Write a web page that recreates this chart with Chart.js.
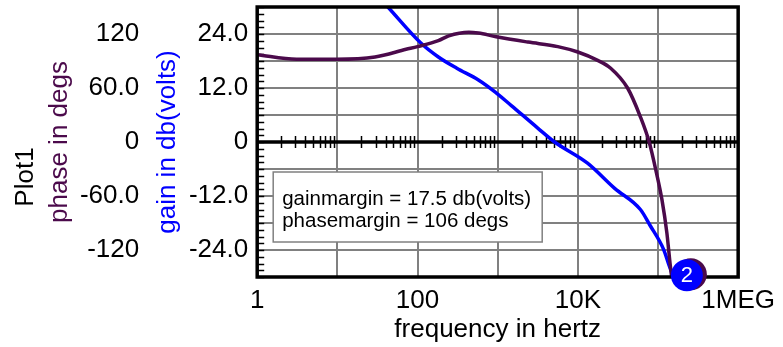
<!DOCTYPE html>
<html>
<head>
<meta charset="utf-8">
<script src="https://cdn.jsdelivr.net/npm/chart.js@4/dist/chart.umd.min.js"></script>
<style>
  html, body { margin: 0; padding: 0; background: #fff; }
  #wrap { width: 783px; height: 347px; }
</style>
</head>
<body>
<div id="wrap"><canvas id="bode"></canvas></div>
<script>
// Bode plot: phase (deg) and gain (dB) against log frequency.
const phaseFreq = [1, 3.1, 9.8, 29.5, 72, 100, 182, 245, 437, 575, 955, 2400, 5620, 10000, 17400, 25700, 41700, 60300, 77600, 95500, 112000, 129000, 141000, 148000];
const phaseDeg = [97, 92, 92, 94.5, 103, 106, 112.6, 118, 122, 121, 117, 111, 106, 100, 91, 82, 60, 28, 0, -34, -64, -101, -134, -150];

const gainFreq = [42.7, 110, 182, 309, 575, 933, 1480, 3160, 5130, 13200, 28800, 60300, 79400, 117000, 138000, 155000];
const gainDb = [30, 22, 18.9, 16.4, 13.8, 11.1, 8.1, 3.1, 0, -4.7, -10.3, -15, -18.5, -23.8, -27.5, -30];

const decades = [1, 10, 100, 1e3, 1e4, 1e5, 1e6];
const decadeLabels = ['1', '', '100', '', '10K', '', '1MEG'];

const gainTicks = [-30, -24, -18, -12, -6, 0, 6, 12, 18, 24, 30];
const gainTickLabels = ['', '-24.0', '', '-12.0', '', '0', '', '12.0', '', '24.0', ''];
const phaseTicks = [-150, -120, -90, -60, -30, 0, 30, 60, 90, 120, 150];
const phaseTickLabels = ['', '-120', '', '-60.0', '', '0', '', '60.0', '', '120', ''];

const boxLines = ['gainmargin = 17.5 db(volts)', 'phasemargin = 106 degs'];
const markerFreq = [229000];
const markerGain = [-29.6];
const markerLabel = '2';

const PURPLE = '#4b0a4b';
const BLUE = '#0000ff';
const FONT = '"Liberation Sans", Arial, sans-serif';

function toPoints(xs, ys) {
  return xs.map((x, i) => ({ x: x, y: ys[i] }));
}

const plotFrame = {
  id: 'plotFrame',
  beforeDatasetsDraw(chart) {
    const ctx = chart.ctx;
    const area = chart.chartArea;
    const xs = chart.scales.x;
    const ys = chart.scales.y;
    ctx.save();

    // horizontal grid every 6 dB, heavy line at zero
    gainTicks.forEach((v) => {
      const py = ys.getPixelForValue(v);
      ctx.beginPath();
      ctx.moveTo(area.left, py);
      ctx.lineTo(area.right, py);
      ctx.strokeStyle = v === 0 ? '#000' : '#808080';
      ctx.lineWidth = v === 0 ? 3.5 : 2;
      ctx.stroke();
    });

    // minor ticks along the left border, every 1.5 dB
    ctx.strokeStyle = '#000';
    ctx.lineWidth = 1.5;
    for (let v = -30; v <= 30; v += 1.5) {
      const py = Math.round(ys.getPixelForValue(v)) + 0.5;
      ctx.beginPath();
      ctx.moveTo(area.left, py);
      ctx.lineTo(area.left + 7, py);
      ctx.stroke();
    }

    // log minor ticks crossing the zero line
    const y0 = ys.getPixelForValue(0);
    for (let d = 0; d < decades.length - 1; d++) {
      for (let m = 2; m <= 9; m++) {
        const px = Math.round(xs.getPixelForValue(decades[d] * m)) + 0.5;
        ctx.beginPath();
        ctx.moveTo(px, y0 - 6);
        ctx.lineTo(px, y0 + 6);
        ctx.stroke();
      }
    }

    // margin readout box
    const bx = area.left + 16;
    const by = area.top + 165;
    ctx.fillStyle = '#fff';
    ctx.fillRect(bx, by, 269, 70);
    ctx.strokeStyle = '#808080';
    ctx.lineWidth = 1.5;
    ctx.strokeRect(bx, by, 269, 70);
    ctx.fillStyle = '#000';
    ctx.font = '20.5px ' + FONT;
    ctx.textAlign = 'left';
    ctx.textBaseline = 'alphabetic';
    boxLines.forEach((line, i) => {
      ctx.fillText(line, bx + 9, by + 33 + i * 22);
    });
    ctx.restore();
  },
  afterDatasetsDraw(chart) {
    const ctx = chart.ctx;
    const area = chart.chartArea;
    ctx.save();
    ctx.strokeStyle = '#000';
    ctx.lineWidth = 3.5;
    ctx.strokeRect(area.left, area.top, area.right - area.left, area.bottom - area.top);

    // numbered marker at the end of the traces
    const pt = chart.getDatasetMeta(2).data[0];
    if (pt) {
      ctx.fillStyle = PURPLE;
      ctx.beginPath();
      ctx.arc(pt.x + 4, pt.y - 1, 16, 0, Math.PI * 2);
      ctx.fill();
      ctx.fillStyle = BLUE;
      ctx.beginPath();
      ctx.arc(pt.x, pt.y, 16, 0, Math.PI * 2);
      ctx.fill();
      ctx.fillStyle = '#fff';
      ctx.font = '22px ' + FONT;
      ctx.textAlign = 'center';
      ctx.textBaseline = 'middle';
      ctx.fillText(markerLabel, pt.x, pt.y + 1);
    }
    ctx.restore();
  }
};

new Chart(document.getElementById('bode'), {
  type: 'line',
  data: {
    datasets: [
      {
        data: toPoints(phaseFreq, phaseDeg),
        yAxisID: 'yPhase',
        borderColor: PURPLE,
        borderWidth: 3.5,
        pointRadius: 0,
        cubicInterpolationMode: 'monotone'
      },
      {
        data: toPoints(gainFreq, gainDb),
        yAxisID: 'y',
        borderColor: BLUE,
        borderWidth: 3.5,
        pointRadius: 0,
        cubicInterpolationMode: 'monotone'
      },
      {
        data: toPoints(markerFreq, markerGain),
        yAxisID: 'y',
        showLine: false,
        pointRadius: 0,
        clip: false
      }
    ]
  },
  options: {
    responsive: true,
    maintainAspectRatio: false,
    animation: false,
    layout: { padding: { top: 7, right: 41, left: 0, bottom: 0 } },
    plugins: {
      legend: { display: false },
      tooltip: { enabled: false },
      title: {
        display: true,
        text: 'Plot1',
        position: 'left',
        color: '#000',
        font: { family: FONT, size: 26, weight: 'normal' },
        padding: { top: 10, bottom: 0 }
      }
    },
    scales: {
      x: {
        type: 'logarithmic',
        min: 1,
        max: 1e6,
        afterBuildTicks: (axis) => { axis.ticks = decades.map((v) => ({ value: v })); },
        afterFit: (axis) => { axis.height = 70; },
        ticks: {
          autoSkip: false,
          maxRotation: 0,
          padding: 8,
          color: '#000',
          font: { family: FONT, size: 26 },
          callback: (v) => decadeLabels[decades.indexOf(v)]
        },
        grid: { color: '#808080', lineWidth: 2, drawTicks: false },
        border: { display: false },
        title: {
          display: true,
          text: 'frequency in hertz',
          color: '#000',
          font: { family: FONT, size: 26 },
          padding: { top: 0, bottom: 2 }
        }
      },
      y: {
        position: 'left',
        weight: 0,
        min: -30,
        max: 30,
        afterBuildTicks: (axis) => { axis.ticks = gainTicks.map((v) => ({ value: v })); },
        afterFit: (axis) => { axis.width = 105; axis.paddingTop = 0; axis.paddingBottom = 0; },
        ticks: {
          autoSkip: false,
          padding: 9,
          color: '#000',
          font: { family: FONT, size: 26 },
          callback: (v) => gainTickLabels[gainTicks.indexOf(v)]
        },
        grid: { display: false, drawTicks: false },
        border: { display: false },
        title: {
          display: true,
          text: 'gain in db(volts)',
          color: BLUE,
          font: { family: FONT, size: 26 },
          padding: { top: 0, bottom: 0 }
        }
      },
      yPhase: {
        position: 'left',
        weight: 1,
        min: -150,
        max: 150,
        afterBuildTicks: (axis) => { axis.ticks = phaseTicks.map((v) => ({ value: v })); },
        afterFit: (axis) => { axis.width = 111; axis.paddingTop = 0; axis.paddingBottom = 0; },
        ticks: {
          autoSkip: false,
          padding: 13,
          color: '#000',
          font: { family: FONT, size: 26 },
          callback: (v) => phaseTickLabels[phaseTicks.indexOf(v)]
        },
        grid: { display: false, drawTicks: false },
        border: { display: false },
        title: {
          display: true,
          text: 'phase in degs',
          color: PURPLE,
          font: { family: FONT, size: 26 },
          padding: { top: 3, bottom: 0 }
        }
      }
    }
  },
  plugins: [plotFrame]
});
</script>
</body>
</html>
